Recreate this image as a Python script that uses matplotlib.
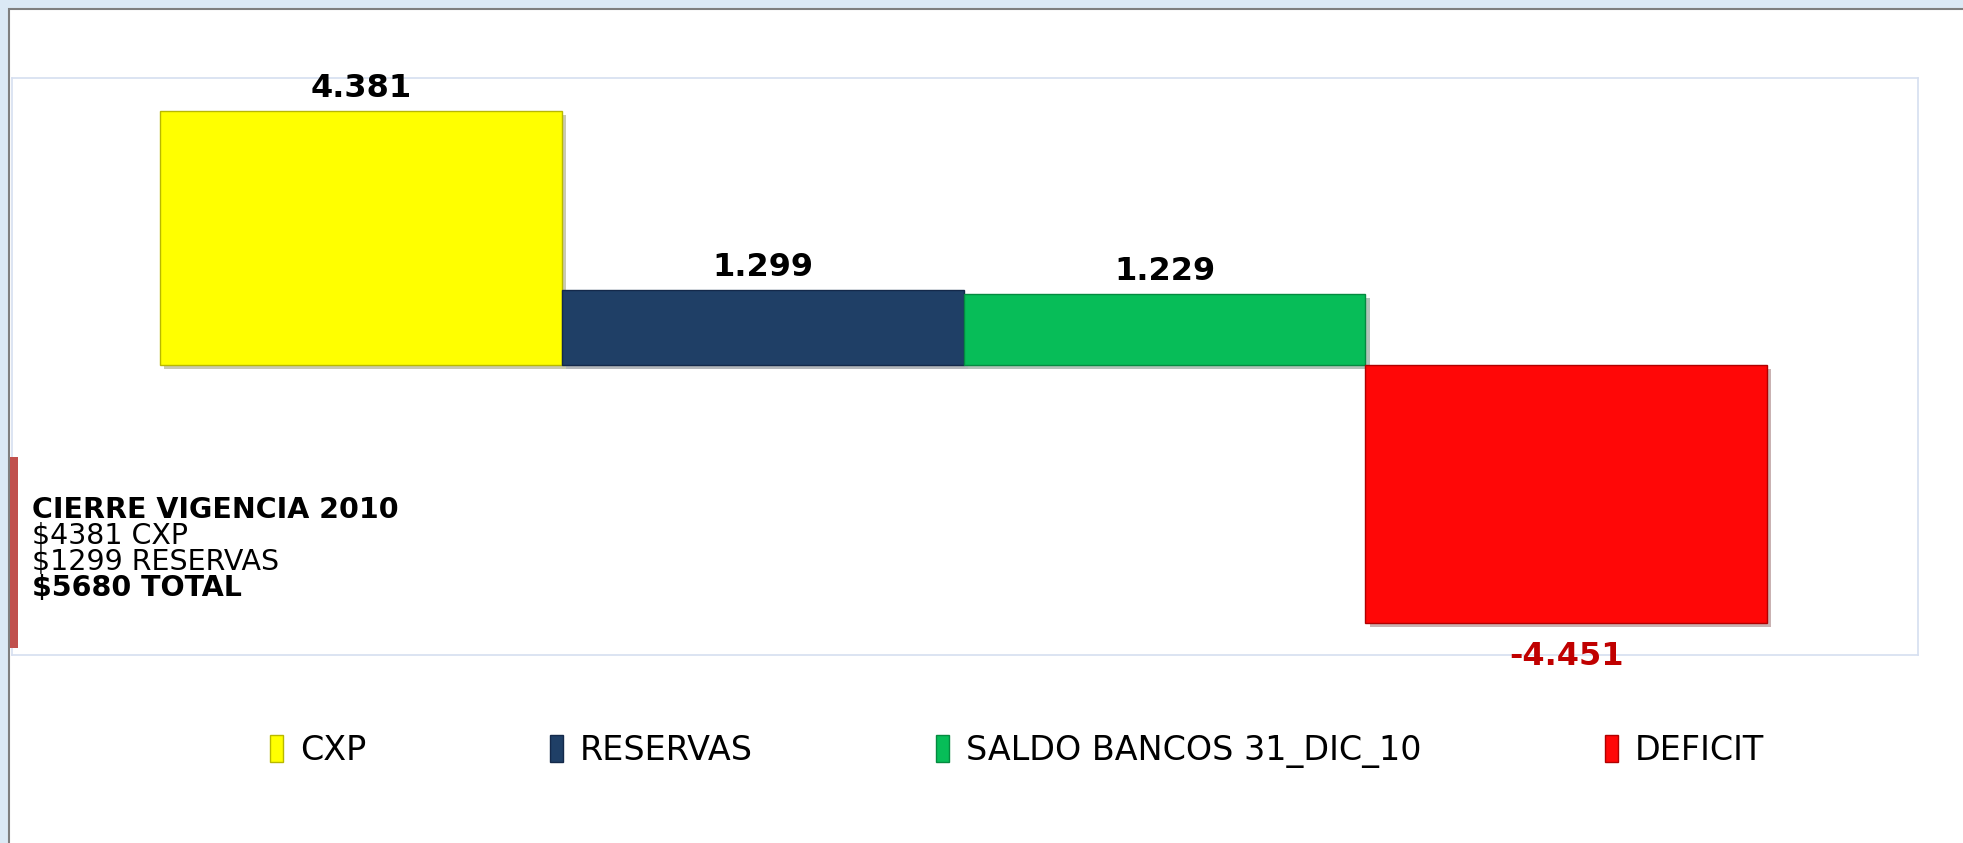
import matplotlib
matplotlib.use("Agg")
import matplotlib.pyplot as plt
from matplotlib.patches import Rectangle, Patch
import matplotlib.patheffects as pe

categories = ["CXP", "RESERVAS", "SALDO BANCOS 31_DIC_10", "DEFICIT"]
values = [4381, 1299, 1229, -4451]
value_labels = ["4.381", "1.299", "1.229", "-4.451"]
colors = ["#ffff00", "#1f3f66", "#07bd58", "#ff0707"]
edges = ["#b8b800", "#14294a", "#058a40", "#b00000"]

box_lines = ["CIERRE VIGENCIA 2010", "$4381 CXP", "$1299 RESERVAS", "$5680 TOTAL"]
box_bold = [True, False, False, True]

W, H = 1963, 843


def fx(px):
    return px / W


def fy(py):
    return 1 - py / H


fig = plt.figure(figsize=(W / 100, H / 100), dpi=100)
fig.patch.set_facecolor("#dbe9f5")

# white chart panel with gray border
fig.add_artist(Rectangle((fx(9), -0.01), 1.0, fy(9) + 0.01, transform=fig.transFigure,
                         facecolor="white", edgecolor="#7f7f7f", linewidth=1.5, zorder=-1))

ax = fig.add_axes([fx(12), fy(655), fx(1918) - fx(12), fy(78) - fy(655)])
ax.set_facecolor("white")

x = range(len(categories))
bars = ax.bar(x, values, width=1.0, color=colors, edgecolor=edges, linewidth=1.0)
for b in bars:
    b.set_path_effects([pe.SimplePatchShadow(offset=(3, -3), alpha=0.3), pe.Normal()])

for i, (v, lab) in enumerate(zip(values, value_labels)):
    if v >= 0:
        ax.annotate(lab, (i, v), xytext=(0, 16), textcoords="offset points",
                    ha="center", va="center", fontsize=23, fontweight="bold", color="black")
    else:
        ax.annotate(lab, (i, v), xytext=(0, -24), textcoords="offset points",
                    ha="center", va="center", fontsize=23, fontweight="bold", color="#c00000",
                    annotation_clip=False)

ax.set_xlim(-0.868, 3.875)
ax.set_ylim(-5000, 4950)
ax.set_xticks([])
ax.set_yticks([])
for s in ax.spines.values():
    s.set_color("#d6dff0")
    s.set_linewidth(1.2)

# text box on the left
fig.add_artist(Rectangle((fx(10), fy(648)), 8 / W, (648 - 457) / H, transform=fig.transFigure,
                         facecolor="#c0504d", edgecolor="none", zorder=3))
baselines = [518, 544, 570, 596]
for line, bold, yb in zip(box_lines, box_bold, baselines):
    fig.text(fx(32), fy(yb), line, fontsize=20.5, fontweight="bold" if bold else "normal",
             ha="left", va="baseline", color="black")

handles = [Patch(facecolor=c, edgecolor=e) for c, e in zip(colors, edges)]
fig.legend(handles, categories, loc="center", bbox_to_anchor=(fx(1017), fy(751)),
           ncol=4, frameon=False, fontsize=24, handlelength=0.4, handleheight=0.85,
           handletextpad=0.5, columnspacing=5.5)

fig.savefig("out.png", dpi=100, facecolor=fig.get_facecolor())
